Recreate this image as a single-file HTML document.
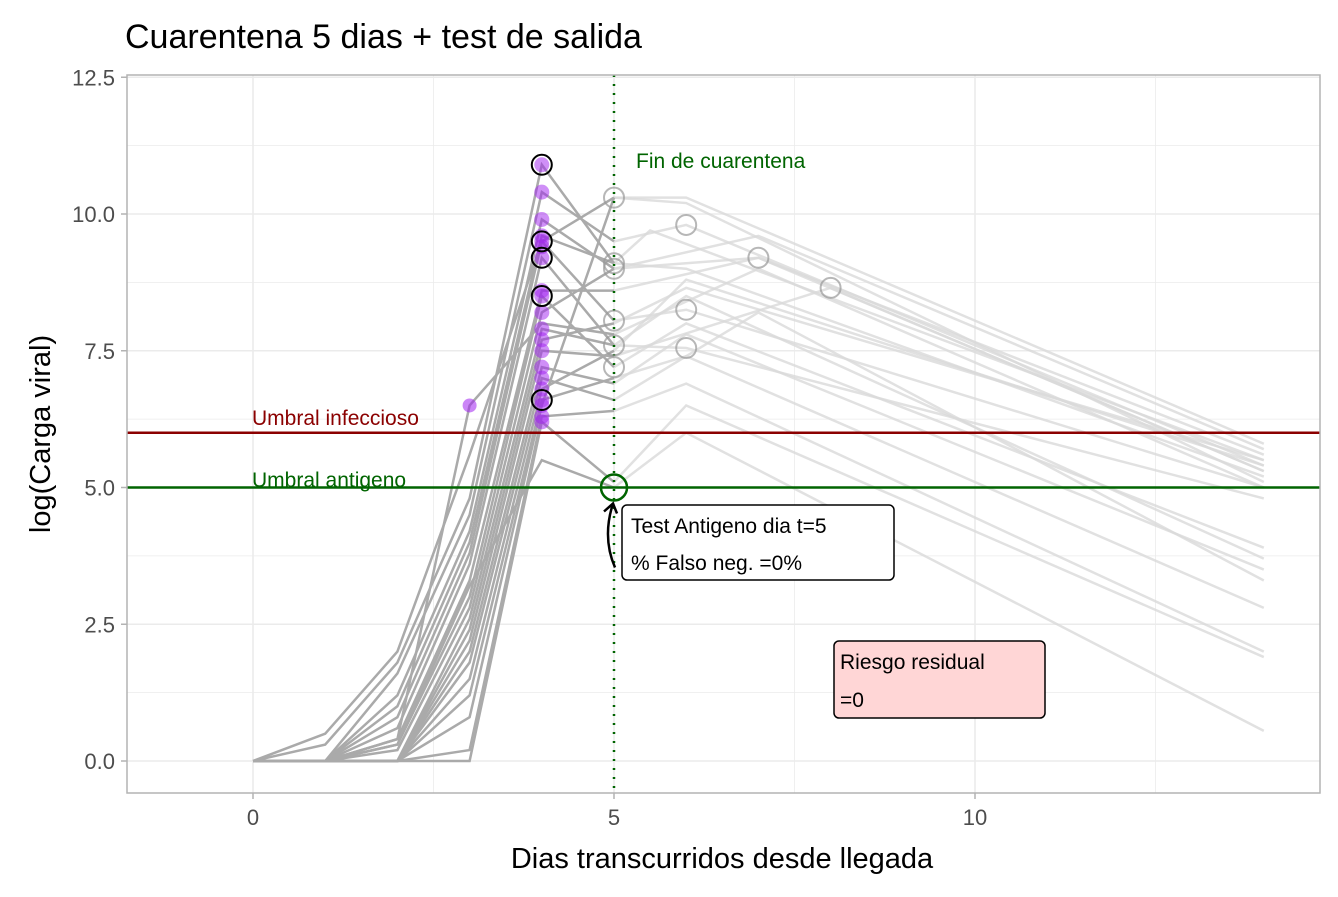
<!DOCTYPE html>
<html><head><meta charset="utf-8"><style>
body{margin:0;background:#fff;}
svg{font-family:"Liberation Sans",Arial,sans-serif;}
</style></head><body>
<svg id="chart" width="1338" height="892" xmlns="http://www.w3.org/2000/svg">
<rect width="1338" height="892" fill="#fff"/>
<text x="125" y="48" font-size="34" fill="#000">Cuarentena 5 dias + test de salida</text>
<g id="grid"></g>
<g id="lines"></g>
<g id="marks"></g>
<g id="axes"></g>
<text x="722" y="868" font-size="29" text-anchor="middle" fill="#000">Dias transcurridos desde llegada</text>
<text transform="translate(50,434) rotate(-90)" font-size="29" text-anchor="middle" fill="#000">log(Carga viral)</text>
</svg>
<script>
const xTicks=[0,5,10];
const yTicks=[0,2.5,5,7.5,10,12.5];
const yTickLabels=["0.0","2.5","5.0","7.5","10.0","12.5"];
// trajectories: values at days 0..5
const early=[
[0,0.5,2.0,5.6,9.5,10.3],[0,0.3,1.8,4.8,10.9,9.1],[0,0,1.6,4.5,10.4,9.5],[0,0,1.2,4.2,9.9,9.0],
[0,0,1.0,4.0,9.6,9.1],[0,0,0.8,3.8,9.5,8.05],[0,0,0.6,3.6,9.2,7.6],[0,0,0.4,3.3,8.6,8.6],
[0,0,0.3,3.0,8.5,7.2],[0,0,0.2,2.8,8.2,9.0],[0,0,0,2.6,7.9,7.6],[0,0,0,2.4,7.7,8.0],
[0,0,0,2.2,7.5,7.4],[0,0,0,2.0,7.2,6.9],[0,0,0,1.8,7.0,6.6],[0,0,0,1.5,6.8,7.5],
[0,0,0,1.2,6.6,7.0],[0,0,0,0.8,6.5,10.3],[0,0,0,0.2,6.3,6.4],[0,0,0,0,6.2,5.1],
[0,0,0.4,6.5,8.0,7.8],[0,0,0.3,3.2,5.5,5.0]
];
const peakDay=[6,5.5,6,7,6,6,6,7,6,7,6,6,8,6,7,6,6,6,6,6,7,6];
const peakVal=[10.3,9.7,9.8,9.2,9.0,8.25,7.55,9.2,8.0,9.6,8.5,8.65,8.65,7.8,8.2,8.8,7.4,10.2,6.9,6.5,9.0,6.0];
const endVal=[5.8,5.5,5.4,5.3,5.2,5.0,4.8,5.6,3.9,5.7,3.7,5.5,5.3,3.5,3.3,5.4,2.8,5.1,2.0,1.9,5.0,0.55];
const day4Pts=[10.9,10.4,9.9,9.6,9.5,9.4,9.2,8.6,8.5,8.2,7.9,7.7,7.5,7.2,7.0,6.8,6.6,6.5,6.3,6.2];
const day4Circled=[10.9,9.5,9.2,8.5,6.6];
const openX=[5,5,5,5,5,5,6,6,6,7,8];
const openY=[10.3,9.1,9.0,8.05,7.6,7.2,9.8,8.25,7.55,9.2,8.65];

const X=v=>253+(v)*72.2, Y=v=>761-v*54.7;
const L=127,R=1320,T=75,B=793;
const NS="http://www.w3.org/2000/svg";
function mk(tag,attrs,parent){const e=document.createElementNS(NS,tag);for(const k in attrs)e.setAttribute(k,attrs[k]);parent.appendChild(e);return e;}
const grid=document.getElementById('grid'),lines=document.getElementById('lines'),marks=document.getElementById('marks'),axes=document.getElementById('axes');
for(let v=0;v<=14.5;v+=2.5){const g=mk('line',{x1:X(v),x2:X(v),y1:T,y2:B,stroke:'#ebebeb','stroke-width':v%5==0?1.6:0.8},grid);

}
for(let v=0;v<=12.5;v+=1.25){const g=mk('line',{x1:L,x2:R,y1:Y(v),y2:Y(v),stroke:'#ebebeb','stroke-width':v%2.5==0?1.6:0.8},grid);

}
early.forEach((e,i)=>{const pts=[[5,e[5]],[peakDay[i],peakVal[i]],[14,endVal[i]]];
const p=mk('polyline',{points:pts.map(q=>X(q[0])+','+Y(q[1])).join(' '),fill:'none',stroke:'#d9d9d9','stroke-width':2.5,'stroke-opacity':0.8},lines);

});
early.forEach((e,i)=>{const p=mk('polyline',{points:e.map((v,d)=>X(d)+','+Y(v)).join(' '),fill:'none',stroke:'#aaaaaa','stroke-width':2.5},lines);

});
let h=mk('line',{x1:L,x2:R,y1:Y(6),y2:Y(6),stroke:'#8b0000','stroke-width':2.5},marks);


h=mk('line',{x1:L,x2:R,y1:Y(5),y2:Y(5),stroke:'#006400','stroke-width':2.5},marks);


h=mk('line',{x1:X(5),x2:X(5),y1:T,y2:B,stroke:'#006400','stroke-width':2.5,'stroke-dasharray':'2 7'},marks);


let pp=mk('circle',{cx:X(3),cy:Y(6.5),r:7,fill:'#a020f0','fill-opacity':0.55},marks);


day4Pts.forEach(v=>{const c=mk('circle',{cx:X(4),cy:Y(v),r:7.5,fill:'#a020f0','fill-opacity':0.5},marks);

});
day4Circled.forEach(v=>{const c=mk('circle',{cx:X(4),cy:Y(v),r:10,fill:'none',stroke:'#000','stroke-width':2},marks);

});
openX.forEach((x,i)=>{const c=mk('circle',{cx:X(x),cy:Y(openY[i]),r:10,fill:'none',stroke:'#999','stroke-opacity':0.7,'stroke-width':2},marks);

});
let gc=mk('circle',{cx:X(5),cy:Y(5),r:13,fill:'none',stroke:'#006400','stroke-width':2.5},marks);


let ar=mk('path',{d:`M${X(5)+1},${Y(5)+80} Q${X(5)-12},${Y(5)+50} ${X(5)-1},${Y(5)+16} M${X(5)-10},${Y(5)+24} L${X(5)-1},${Y(5)+16} L${X(5)+3},${Y(5)+26}`,fill:'none',stroke:'#000','stroke-width':2.5},marks);


function txt(s,x,y,size,col,name,anchor){const t=mk('text',{x:x,y:y,'font-size':size,fill:col,'text-anchor':anchor||'start'},marks);t.textContent=s;

return t;}
txt('Umbral infeccioso',252,425,21,'#8b0000','infectious-label');
txt('Umbral antigeno',252,487,21,'#006400','antigen-label');
txt('Fin de cuarentena',636,168,21,'#006400','quarantine-end-label');
let b=mk('rect',{x:622,y:505,width:272,height:75,rx:5,fill:'#fff',stroke:'#000','stroke-width':1.5},marks);


txt('Test Antigeno dia t=5',631,533,21,'#000','test-label');
txt('% Falso neg. =0%',631,570,21,'#000','false-negative-label');
b=mk('rect',{x:834,y:641,width:211,height:77,rx:5,fill:'#ffd6d6',stroke:'#000','stroke-width':1.5},marks);


txt('Riesgo residual',840,669,21,'#000','residual-risk-label');
txt('=0',840,707,21,'#000','residual-risk-value');
let fr=mk('rect',{x:L,y:T,width:R-L,height:B-T,fill:'none',stroke:'#b3b3b3','stroke-width':1.5},axes);


xTicks.forEach(v=>{const k=mk('line',{x1:X(v),x2:X(v),y1:B,y2:B+6,stroke:'#b3b3b3','stroke-width':1.5},axes);


txt(String(v),X(v),B+32,22,'#4d4d4d','x-tick-label','middle');});
yTicks.forEach((v,i)=>{const k=mk('line',{x1:L-6,x2:L,y1:Y(v),y2:Y(v),stroke:'#b3b3b3','stroke-width':1.5},axes);


txt(yTickLabels[i],L-12,Y(v)+8,22,'#4d4d4d','y-tick-label','end');});
</script>
</body></html>
